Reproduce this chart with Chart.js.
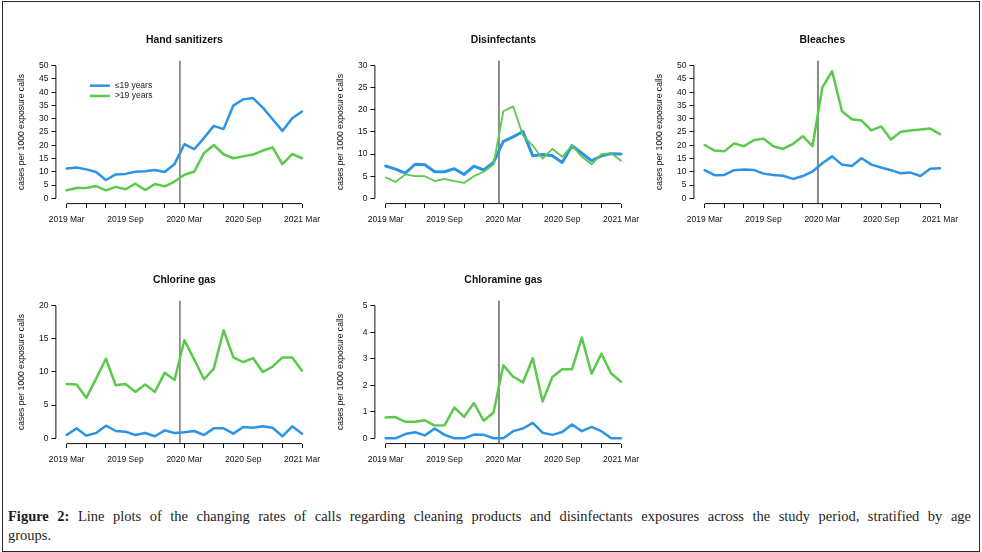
<!DOCTYPE html>
<html lang="en">
<head>
<meta charset="UTF-8">
<title>Figure 2 - cleaning product exposure calls</title>
<style>
  body { margin: 0; background: #fff; font-family: "Liberation Sans", Arial, sans-serif; }
  #fig { position: relative; width: 982px; height: 552px; overflow: hidden; background: #fff; }
  #frame { position: absolute; left: 2px; top: 1px; width: 978px; height: 551px; border: 1px solid #2a2a2a; box-sizing: border-box; }
  .panel { position: absolute; }
  .caption { position: absolute; left: 8px; top: 507px; width: 963px; font-family: "Liberation Serif", "DejaVu Serif", serif; font-size: 14.5px; line-height: 19px; color: #1e1e1e; }
  .caption .l1 { text-align: justify; text-align-last: justify; white-space: nowrap; }
</style>
</head>
<body>
<div id="fig">
  <div id="frame"></div>
  <canvas id="c1" class="panel" width="330" height="210" style="left:0px;top:20px"></canvas>
  <canvas id="c2" class="panel" width="330" height="210" style="left:319px;top:20px"></canvas>
  <canvas id="c3" class="panel" width="330" height="210" style="left:638px;top:20px"></canvas>
  <canvas id="c4" class="panel" width="330" height="210" style="left:0px;top:260px"></canvas>
  <canvas id="c5" class="panel" width="330" height="210" style="left:319px;top:260px"></canvas>
  <div class="caption">
    <div class="l1"><b>Figure 2:</b> Line plots of the changing rates of calls regarding cleaning products and disinfectants exposures across the study period, stratified by age</div>
    <div>groups.</div>
  </div>
</div>

<script src="https://cdn.jsdelivr.net/npm/chart.js"></script>
<script>
// monthly points, 2019 Mar .. 2021 Mar
const months = ['2019 Mar', '2019 Apr', '2019 May', '2019 Jun', '2019 Jul', '2019 Aug', '2019 Sep',
  '2019 Oct', '2019 Nov', '2019 Dec', '2020 Jan', '2020 Feb', '2020 Mar', '2020 Apr', '2020 May',
  '2020 Jun', '2020 Jul', '2020 Aug', '2020 Sep', '2020 Oct', '2020 Nov', '2020 Dec', '2021 Jan',
  '2021 Feb', '2021 Mar'];
const xTickPos = [0, 2, 4, 6, 8, 10, 12, 14, 16, 18, 20, 22, 24];
const xTickLabels = ['2019 Mar', '2019 Sep', '2020 Mar', '2020 Sep', '2021 Mar'];
const marchLine = 11.55;   // position of the vertical reference line (month index)
const groupLabels = ['\u226419 years', '>19 years'];

const handYoung = [11.2, 11.6, 10.9, 9.9, 6.9, 9.0, 9.2, 10.0, 10.2, 10.7, 9.9, 12.9, 20.4, 18.5, 22.7, 27.3, 26.1, 35.0, 37.3, 37.8, 34.2, 29.8, 25.4, 30.2, 32.7];
const handOld = [3.0, 3.9, 3.9, 4.6, 3.0, 4.3, 3.4, 5.5, 3.1, 5.4, 4.5, 6.3, 8.9, 10.0, 17.0, 20.1, 16.6, 15.1, 15.8, 16.5, 18.0, 19.2, 12.9, 16.7, 15.1];

const disYoung = [7.3, 6.6, 5.7, 7.7, 7.6, 6.0, 6.0, 6.7, 5.4, 7.3, 6.4, 8.1, 12.9, 13.9, 15.1, 9.6, 9.9, 9.6, 8.1, 11.9, 10.2, 8.5, 9.6, 10.1, 10.0];
const disOld = [4.7, 3.7, 5.4, 5.0, 5.0, 3.9, 4.4, 3.9, 3.5, 5.0, 6.0, 7.7, 19.7, 20.8, 14.2, 11.9, 9.0, 11.2, 9.4, 11.9, 9.4, 7.7, 10.0, 10.2, 8.5];

const bleachYoung = [10.6, 8.7, 8.8, 10.6, 10.9, 10.7, 9.3, 8.8, 8.5, 7.3, 8.4, 10.1, 13.2, 15.8, 12.7, 12.2, 15.1, 12.7, 11.6, 10.6, 9.4, 9.7, 8.4, 11.1, 11.3];
const bleachOld = [20.1, 18.0, 17.7, 20.7, 19.6, 21.9, 22.5, 19.6, 18.6, 20.5, 23.4, 19.7, 41.8, 47.9, 32.8, 29.8, 29.3, 25.6, 27.1, 22.2, 25.1, 25.6, 25.9, 26.3, 24.2];

const chlorineYoung = [0.5, 1.5, 0.4, 0.8, 1.9, 1.1, 1.0, 0.5, 0.8, 0.3, 1.2, 0.8, 0.9, 1.1, 0.5, 1.5, 1.5, 0.7, 1.7, 1.6, 1.8, 1.6, 0.3, 1.8, 0.7];
const chlorineOld = [8.2, 8.1, 6.1, 9.0, 12.0, 8.0, 8.2, 7.0, 8.1, 7.0, 9.9, 8.8, 14.8, 11.9, 8.9, 10.5, 16.3, 12.2, 11.5, 12.1, 10.0, 10.8, 12.2, 12.2, 10.2];

const chloramineYoung = [0, 0, 0.16, 0.23, 0.11, 0.37, 0.13, 0, 0, 0.14, 0.13, 0, 0, 0.27, 0.37, 0.58, 0.21, 0.13, 0.24, 0.52, 0.27, 0.43, 0.27, 0, 0];
const chloramineOld = [0.78, 0.80, 0.62, 0.62, 0.68, 0.48, 0.49, 1.16, 0.81, 1.33, 0.66, 0.97, 2.75, 2.32, 2.11, 3.02, 1.39, 2.31, 2.60, 2.60, 3.80, 2.44, 3.19, 2.44, 2.13];

const ticks50 = [0, 5, 10, 15, 20, 25, 30, 35, 40, 45, 50];
const ticks30 = [0, 5, 10, 15, 20, 25, 30];
const ticks20 = [0, 5, 10, 15, 20];
const ticks5 = [0, 1, 2, 3, 4, 5];

const BLUE = '#2c94e2';
const GREEN = '#5bc94b';
const FONT = '"Liberation Sans", Arial, sans-serif';

// R style axis lines: only from first to last tick
const rAxes = {
  id: 'rAxes',
  afterDraw(chart) {
    const {ctx, chartArea, scales} = chart;
    const x = scales.x, y = scales.y;
    ctx.save();
    ctx.strokeStyle = '#111';
    ctx.lineWidth = 1;
    ctx.beginPath();
    ctx.moveTo(chartArea.left, y.getPixelForValue(y.ticks[0].value));
    ctx.lineTo(chartArea.left, y.getPixelForValue(y.ticks[y.ticks.length - 1].value));
    ctx.moveTo(x.getPixelForValue(x.ticks[0].value), chartArea.bottom);
    ctx.lineTo(x.getPixelForValue(x.ticks[x.ticks.length - 1].value), chartArea.bottom);
    ctx.stroke();
    ctx.restore();
  }
};

// legend inside the first panel
const rLegend = {
  id: 'rLegend',
  afterDraw(chart, args, opts) {
    if (!opts || !opts.show) return;
    const {ctx, chartArea} = chart;
    ctx.save();
    ctx.font = '8.5px ' + FONT;
    ctx.textBaseline = 'middle';
    chart.data.datasets.slice(0, 2).forEach(function(ds, i) {
      const yy = chartArea.top + 25.3 + i * 10.3;
      ctx.strokeStyle = ds.borderColor;
      ctx.lineWidth = 2.5;
      ctx.beginPath();
      ctx.moveTo(chartArea.left + 34, yy);
      ctx.lineTo(chartArea.left + 54, yy);
      ctx.stroke();
      ctx.fillStyle = '#1a1a1a';
      ctx.fillText(ds.label, chartArea.left + 59, yy);
    });
    ctx.restore();
  }
};

function makePanel(id, title, young, old, yTicks, opt) {
  const top = yTicks[yTicks.length - 1];
  const yMin = -0.04 * top, yMax = 1.04 * top;
  const pts = arr => arr.map((v, i) => ({x: months.indexOf(months[i]), y: v}));
  new Chart(document.getElementById(id), {
    type: 'line',
    data: {
      datasets: [
        { label: groupLabels[0], data: pts(young), borderColor: BLUE, borderWidth: opt.blueW || 2.5,
          pointRadius: 0, tension: 0, borderJoinStyle: 'round', borderCapStyle: 'round', order: 1 },
        { label: groupLabels[1], data: pts(old), borderColor: GREEN, borderWidth: opt.greenW || 2.5,
          pointRadius: 0, tension: 0, borderJoinStyle: 'round', borderCapStyle: 'round', order: 0 },
        { label: 'line', data: [{x: marchLine, y: yMin}, {x: marchLine, y: yMax}],
          borderColor: opt.vColor, borderWidth: opt.vW, pointRadius: 0, order: 2 }
      ]
    },
    options: {
      responsive: false,
      animation: false,
      events: [],
      layout: { padding: { left: 0, right: 17.2, top: 0, bottom: 0 } },
      plugins: {
        legend: { display: false },
        tooltip: { enabled: false },
        title: {
          display: true, text: title, fullSize: false, color: '#111',
          font: { family: FONT, size: 10.4, weight: 'bold', lineHeight: 1.2 },
          padding: { top: 13.75, bottom: 14.15 }
        },
        rLegend: { show: !!opt.legend }
      },
      scales: {
        x: {
          type: 'linear', min: -1.1, max: 25.1,
          afterBuildTicks: s => { s.ticks = xTickPos.map(v => ({value: v})); },
          afterFit: s => { s.height = 26.4; },
          border: { display: false },
          grid: { drawOnChartArea: false, color: '#111', tickLength: 4.5, lineWidth: 1 },
          ticks: {
            autoSkip: false, maxRotation: 0, padding: 6, color: '#111',
            font: { family: FONT, size: 8.5 },
            callback: v => (v % 6 === 0 ? xTickLabels[v / 6] : '')
          }
        },
        y: {
          type: 'linear', min: yMin, max: yMax,
          afterBuildTicks: s => { s.ticks = yTicks.map(v => ({value: v})); },
          afterFit: s => { s.width = 55.9; },
          border: { display: false },
          grid: { drawOnChartArea: false, color: '#111', tickLength: 4.5, lineWidth: 1 },
          ticks: { padding: 3, color: '#111', font: { family: FONT, size: 8.5 } },
          title: {
            display: true, text: 'cases per 1000 exposure calls', color: '#111',
            font: { family: FONT, size: 8.6 }, padding: { top: 16.5, bottom: 0 }
          }
        }
      }
    },
    plugins: [rAxes, rLegend]
  });
}

makePanel('c1', 'Hand sanitizers', handYoung, handOld, ticks50, { vColor: '#333', vW: 1, legend: true });
makePanel('c2', 'Disinfectants', disYoung, disOld, ticks30, { vColor: '#8a8a8a', vW: 2, blueW: 3, greenW: 1.8 });
makePanel('c3', 'Bleaches', bleachYoung, bleachOld, ticks50, { vColor: '#8a8a8a', vW: 2 });
makePanel('c4', 'Chlorine gas', chlorineYoung, chlorineOld, ticks20, { vColor: '#333', vW: 1 });
makePanel('c5', 'Chloramine gas', chloramineYoung, chloramineOld, ticks5, { vColor: '#8a8a8a', vW: 2 });
</script>
</body>
</html>
